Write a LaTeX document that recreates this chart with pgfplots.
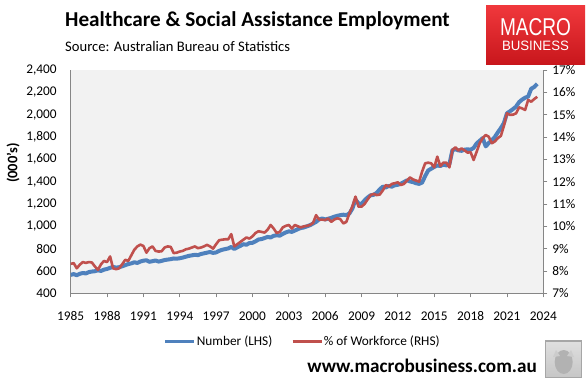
\documentclass[border=0pt]{standalone}
\usepackage{pgfplots}
\pgfplotsset{compat=1.18}
\usepackage{pgfplotstable}
\usepackage{graphicx}
\usepackage{fontspec}
\setmainfont{Carlito}
\newfontfamily\arialf{Liberation Sans}
\definecolor{mbblue}{HTML}{4F81BD}
\definecolor{mbred}{HTML}{C0504D}
\definecolor{plotbg}{HTML}{F2F2F2}
\definecolor{axgray}{HTML}{868686}
\definecolor{logotop}{HTML}{F0383C}
\definecolor{logobot}{HTML}{C8161C}

\pgfplotstableread{
x n p
1985.00 565 8.32
1985.25 572 8.35
1985.50 562 8.12
1985.75 575 8.28
1986.00 582 8.40
1986.25 578 8.36
1986.50 590 8.40
1986.75 595 8.38
1987.00 598 8.20
1987.25 606 8.05
1987.50 600 8.30
1987.75 612 8.45
1988.00 618 8.40
1988.25 628 8.65
1988.50 636 8.12
1988.75 630 8.08
1989.00 634 8.12
1989.25 642 8.30
1989.50 652 8.50
1989.75 662 8.45
1990.00 668 8.70
1990.25 678 8.95
1990.50 672 9.10
1990.75 685 9.18
1991.00 692 9.12
1991.25 696 8.82
1991.50 682 9.02
1991.75 688 9.10
1992.00 694 8.90
1992.25 684 8.87
1992.50 690 8.88
1992.75 698 9.05
1993.00 702 9.10
1993.25 706 9.08
1993.50 712 8.80
1993.75 710 8.82
1994.00 714 8.87
1994.25 720 8.90
1994.50 728 8.97
1994.75 735 9.00
1995.00 740 9.05
1995.25 745 9.10
1995.50 742 9.02
1995.75 752 9.05
1996.00 758 9.10
1996.25 764 9.17
1996.50 770 9.10
1996.75 762 9.00
1997.00 766 9.20
1997.25 780 9.38
1997.50 790 9.40
1997.75 796 9.42
1998.00 802 9.42
1998.25 815 9.65
1998.50 797 9.10
1998.75 812 9.20
1999.00 825 9.30
1999.25 840 9.40
1999.50 835 9.50
1999.75 850 9.45
2000.00 852 9.55
2000.25 865 9.70
2000.50 882 9.78
2000.75 886 9.75
2001.00 895 9.72
2001.25 905 9.85
2001.50 900 10.06
2001.75 915 9.90
2002.00 920 9.70
2002.25 916 9.75
2002.50 932 9.95
2002.75 945 10.02
2003.00 955 10.06
2003.25 950 9.90
2003.50 962 10.06
2003.75 975 10.00
2004.00 985 9.95
2004.25 990 10.00
2004.50 1000 10.02
2004.75 1010 10.06
2005.00 1025 10.15
2005.25 1040 10.50
2005.50 1062 10.30
2005.75 1070 10.30
2006.00 1062 10.28
2006.25 1068 10.35
2006.50 1076 10.20
2006.75 1086 10.30
2007.00 1094 10.36
2007.25 1100 10.32
2007.50 1104 10.13
2007.75 1100 10.20
2008.00 1115 10.58
2008.25 1160 10.90
2008.50 1240 11.33
2008.75 1205 10.88
2009.00 1200 10.88
2009.25 1232 11.00
2009.50 1258 11.20
2009.75 1278 11.40
2010.00 1282 11.45
2010.25 1300 11.40
2010.50 1330 11.42
2010.75 1355 11.60
2011.00 1348 11.85
2011.25 1362 11.78
2011.50 1355 11.90
2011.75 1368 11.93
2012.00 1372 11.97
2012.25 1382 11.85
2012.50 1396 11.90
2012.75 1412 12.05
2013.00 1402 12.19
2013.25 1396 12.10
2013.50 1386 12.05
2013.75 1380 12.00
2014.00 1392 12.45
2014.25 1450 12.82
2014.50 1500 12.85
2014.75 1516 12.82
2015.00 1532 12.64
2015.25 1545 13.12
2015.50 1540 12.70
2015.75 1552 12.85
2016.00 1546 12.85
2016.25 1556 12.64
2016.50 1682 13.42
2016.75 1690 13.54
2017.00 1680 13.39
2017.25 1676 13.49
2017.50 1686 13.40
2017.75 1690 13.30
2018.00 1686 13.32
2018.25 1702 12.97
2018.50 1742 13.34
2018.75 1766 13.72
2019.00 1790 13.95
2019.25 1716 14.09
2019.50 1746 14.01
2019.75 1772 13.72
2020.00 1800 13.80
2020.25 1842 13.95
2020.50 1880 14.05
2020.75 1925 14.50
2021.00 2012 15.06
2021.25 2030 14.99
2021.50 2050 15.00
2021.75 2072 15.06
2022.00 2112 15.33
2022.25 2135 15.28
2022.50 2152 15.21
2022.75 2162 15.66
2023.00 2232 15.58
2023.25 2248 15.70
2023.50 2276 15.80
}\data

\pgfplotsset{
  common/.style={
    at={(70.7pt,90.7pt)}, anchor=south west,
    scale only axis, width=472.6pt, height=223.3pt,
    xmin=1985, xmax=2024,
    axis line style={draw=axgray, line width=0.8pt},
    tick style={draw=axgray, line width=0.8pt},
    tick align=outside,
    major tick length=4pt,
    ticklabel style={font=\fontsize{13.3}{15}\selectfont, text=black},
    /pgf/number format/assume math mode=true,
  }
}

\begin{document}
\begin{tikzpicture}[x=1pt,y=1pt]
\path[use as bounding box, fill=white] (0pt,0pt) rectangle (586pt,384pt);

\begin{axis}[common,
  ymin=400, ymax=2400,
  axis background/.style={fill=plotbg},
  axis x line*=bottom, axis y line*=left,
  xtick={1985,1988,...,2024},
  ytick={400,600,...,2400},
  ytick style={draw=none},
  xticklabel style={/pgf/number format/1000 sep={}, yshift=-11pt},
  yticklabel style={/pgf/number format/1000 sep={,}, xshift=-6.5pt},
]
\addplot[mbblue, line width=4pt, line join=round] table[x=x, y=n]{\data};
\end{axis}

\begin{axis}[common,
  ymin=7, ymax=17,
  axis x line=none, axis y line*=right,
  ytick={7,8,...,17},
  yticklabel={\pgfmathprintnumber{\tick}\%},
  yticklabel style={xshift=1.5pt},
  legend columns=2,
  legend style={at={(0.4894,-0.2167)}, anchor=center, draw=none, fill=none,
    font=\fontsize{13.3}{15}\selectfont,
    nodes={inner xsep=1pt},
    /tikz/every even column/.append style={column sep=18pt}},
  legend image code/.code={\draw[#1] (0pt,0pt) -- (29pt,0pt);},
]
\addlegendimage{mbblue, line width=3.5pt}
\addlegendentry{Number (LHS)}
\addplot[mbred, line width=2.6pt, line join=round] table[x=x, y=p]{\data};
\addlegendentry{\% of Workforce (RHS)}
\end{axis}

% y axis title
\node[rotate=90, font=\bfseries\fontsize{14.5}{16}\selectfont] at (13pt,221pt) {(000's)};

% titles
\node[anchor=west, inner sep=0pt, font=\bfseries\fontsize{21.2}{23}\selectfont] at (65pt,363.3pt) {Healthcare \& Social Assistance Employment};
\node[anchor=west, inner sep=0pt, font=\fontsize{14.6}{16}\selectfont] at (65pt,337.3pt) {Source: Australian Bureau of Statistics};

% MacroBusiness logo
\shade[top color=logotop, bottom color=logobot] (486pt,319.3pt) rectangle (585pt,378.4pt);
\node[text=white, inner sep=0pt, font=\arialf] at (535.5pt,357pt) {\resizebox{71pt}{17pt}{MACRO}};
\node[text=white, inner sep=0pt, font=\arialf] at (535.5pt,338.1pt) {\resizebox{67pt}{9.5pt}{BUSINESS}};

% url
\node[anchor=east, inner sep=0pt, font=\bfseries\fontsize{19.2}{20}\selectfont] at (537pt,18.3pt) {www.macrobusiness.com.au};

% wolf badge
\shade[top color=gray!25, bottom color=gray!45] (545.7pt,6.3pt) rectangle (581.7pt,43pt);
\draw[gray!70, line width=1.5pt] (545.7pt,6.3pt) rectangle (581.7pt,43pt);
\fill[gray!60] (563.7pt,22pt) ellipse (9pt and 12pt);
\fill[gray!40] (556pt,34pt) -- (560pt,28pt) -- (553pt,27pt) -- cycle;
\fill[gray!40] (571pt,34pt) -- (567pt,28pt) -- (574pt,27pt) -- cycle;
\end{tikzpicture}
\end{document}
